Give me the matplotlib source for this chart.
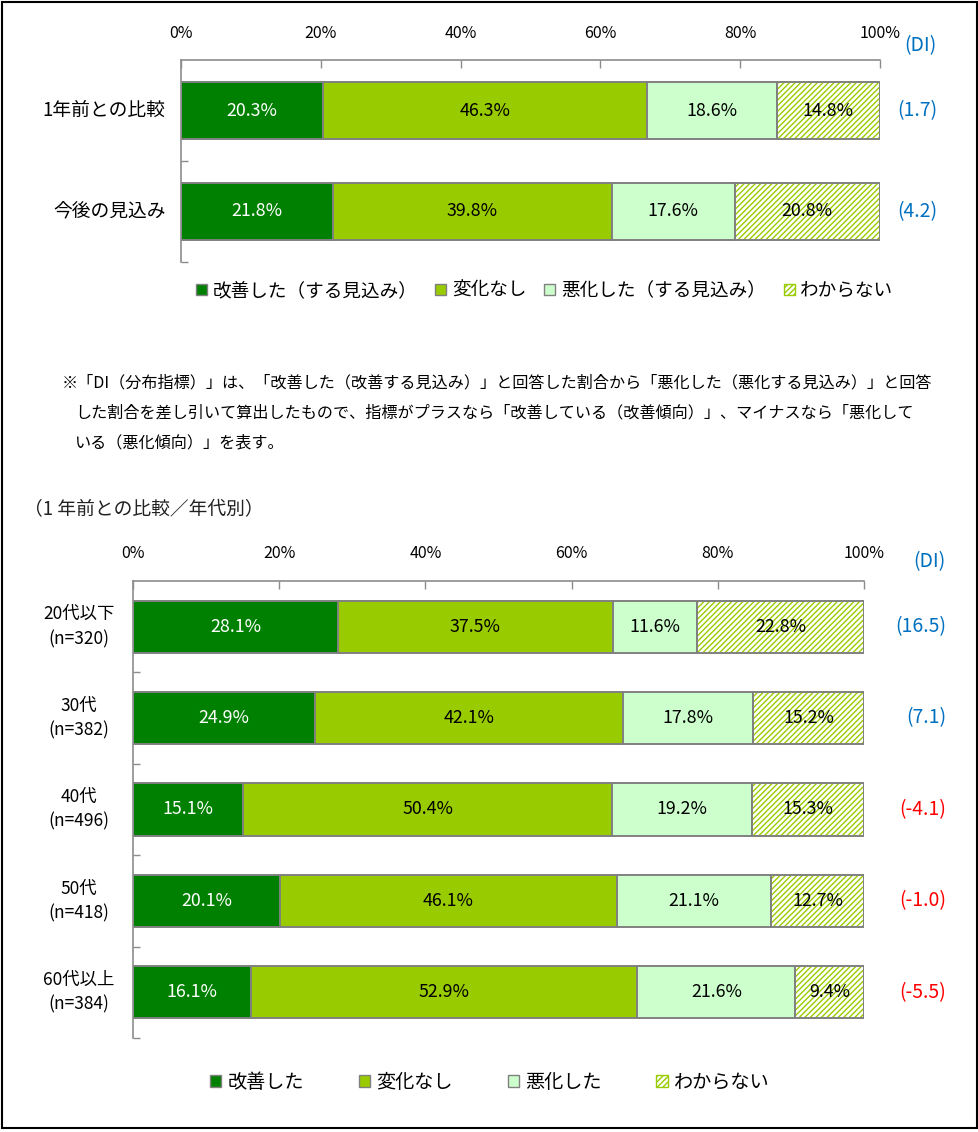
import matplotlib
matplotlib.use('Agg')
import matplotlib.pyplot as plt
from matplotlib.patches import Patch, Rectangle
from matplotlib.transforms import blended_transform_factory
import numpy as np

plt.rcParams['font.family'] = ['Noto Sans CJK JP', 'DejaVu Sans']
plt.rcParams['hatch.linewidth'] = 1.0

# ---------------- data ----------------
top_categories = ['1年前との比較', '今後の見込み']
top_improved = [20.3, 21.8]
top_nochange = [46.3, 39.8]
top_worse = [18.6, 17.6]
top_unknown = [14.8, 20.8]
top_di = [1.7, 4.2]
top_legend = ['改善した（する見込み）', '変化なし', '悪化した（する見込み）', 'わからない']

age_categories = ['20代以下\n(n=320)', '30代\n(n=382)', '40代\n(n=496)',
                  '50代\n(n=418)', '60代以上\n(n=384)']
age_improved = [28.1, 24.9, 15.1, 20.1, 16.1]
age_nochange = [37.5, 42.1, 50.4, 46.1, 52.9]
age_worse = [11.6, 17.8, 19.2, 21.1, 21.6]
age_unknown = [22.8, 15.2, 15.3, 12.7, 9.4]
age_di = [16.5, 7.1, -4.1, -1.0, -5.5]
age_legend = ['改善した', '変化なし', '悪化した', 'わからない']

xticks = [0, 20, 40, 60, 80, 100]

note_lines = [
    '※「DI（分布指標）」は、「改善した（改善する見込み）」と回答した割合から「悪化した（悪化する見込み）」と回答',
    'した割合を差し引いて算出したもので、指標がプラスなら「改善している（改善傾向）」、マイナスなら「悪化して',
    'いる（悪化傾向）」を表す。',
]
subtitle = '（1 年前との比較／年代別）'

# ---------------- style ----------------
C_IMP = '#008000'
C_NOC = '#99CC00'
C_WOR = '#CCFFCC'
C_HATCH = '#99CC00'
EDGE = '#808080'
SPINE = '#8C8C8C'
BLUE = '#0070C0'
RED = '#FF0000'

W, H = 979, 1132
fig = plt.figure(figsize=(W / 100, H / 100), dpi=100)


def fx(px):
    return px / W


def fy(py):
    return 1 - py / H


def draw_chart(ax, cats, improved, nochange, worse, unknown, bar_h, tick_pad):
    n = len(cats)
    y = np.arange(n)
    left = np.zeros(n)
    series = [improved, nochange, worse, unknown]
    colors = [C_IMP, C_NOC, C_WOR, 'white']
    tcolors = ['white', 'black', 'black', 'black']
    for i, (vals, col, tc) in enumerate(zip(series, colors, tcolors)):
        vals = np.array(vals, dtype=float)
        if i == 3:
            ax.barh(y, vals, left=left, height=bar_h, color='white',
                    edgecolor=C_HATCH, hatch='//////', linewidth=0)
            ax.barh(y, vals, left=left, height=bar_h, fill=False,
                    edgecolor=EDGE, linewidth=1.4)
        else:
            ax.barh(y, vals, left=left, height=bar_h, color=col,
                    edgecolor=EDGE, linewidth=1.4)
        for yy, l, v in zip(y, left, vals):
            ax.text(l + v / 2, yy, f'{v:.1f}%', ha='center', va='center',
                    color=tc, fontsize=12.8)
        left = left + vals
    ax.set_xlim(0, 100)
    ax.set_ylim(n - 0.5, -0.5)
    ax.xaxis.tick_top()
    ax.set_xticks(xticks)
    ax.set_xticklabels([f'{t}%' for t in xticks], fontsize=11.5)
    ax.tick_params(axis='x', direction='in', length=6, color=SPINE,
                   pad=tick_pad, width=1)
    ax.set_yticks(y)
    ax.set_yticklabels([])
    ax.tick_params(axis='y', which='major', length=0)
    ax.set_yticks(np.arange(n) + 0.5, minor=True)
    ax.tick_params(axis='y', which='minor', direction='in', length=5,
                   color=SPINE, width=1)
    for s in ['right', 'bottom']:
        ax.spines[s].set_visible(False)
    for s in ['top', 'left']:
        ax.spines[s].set_color(SPINE)
        ax.spines[s].set_linewidth(1.2)
    return y


# ---------------- top chart ----------------
ax1 = fig.add_axes([fx(181), fy(262), fx(880) - fx(181), fy(60) - fy(262)])
y1 = draw_chart(ax1, top_categories, top_improved, top_nochange, top_worse,
                top_unknown, 0.56, 13)
for yy, c in zip(y1, top_categories):
    ax1.annotate(c, xy=(0, yy), xycoords=('axes fraction', 'data'),
                 xytext=(-11, 0), textcoords='offset points',
                 ha='right', va='center', fontsize=13.5)
tr1 = blended_transform_factory(fig.transFigure, ax1.transData)
for yy, d in zip(y1, top_di):
    ax1.text(fx(937), yy, f'({d:.1f})', transform=tr1, ha='right',
             va='center', fontsize=14, color=BLUE if d >= 0 else RED)
fig.text(fx(937), fy(46), '(DI)', ha='right', va='center', fontsize=14,
         color=BLUE)

handles1 = [Patch(facecolor=C_IMP, edgecolor=EDGE),
            Patch(facecolor=C_NOC, edgecolor=EDGE),
            Patch(facecolor=C_WOR, edgecolor=EDGE),
            Patch(facecolor='white', edgecolor=C_HATCH, hatch='//////')]
fig.legend(handles1, top_legend, loc='center left',
           bbox_to_anchor=(fx(196), fy(291)), ncol=4, frameon=False,
           fontsize=13.4, handlelength=0.6, handleheight=0.6,
           handletextpad=0.3, columnspacing=0.95, borderpad=0,
           borderaxespad=0)

# ---------------- notes ----------------
fig.text(fx(62), fy(383), note_lines[0], fontsize=11.6, va='center')
fig.text(fx(75), fy(413), note_lines[1], fontsize=11.6, va='center')
fig.text(fx(75), fy(443), note_lines[2], fontsize=11.6, va='center')
fig.text(fx(24), fy(510), subtitle, fontsize=13.5, va='center', color='#222222')

# ---------------- bottom chart ----------------
ax2 = fig.add_axes([fx(133), fy(1038), fx(864) - fx(133), fy(581) - fy(1038)])
y2 = draw_chart(ax2, age_categories, age_improved, age_nochange, age_worse,
                age_unknown, 0.57, 14)
for yy, c in zip(y2, age_categories):
    ax2.annotate(c, xy=(0, yy), xycoords=('axes fraction', 'data'),
                 xytext=(-39, 0), textcoords='offset points',
                 ha='center', va='center', fontsize=12.5, linespacing=1.45)
tr2 = blended_transform_factory(fig.transFigure, ax2.transData)
for yy, d in zip(y2, age_di):
    ax2.text(fx(946), yy, f'({d:.1f})', transform=tr2, ha='right',
             va='center', fontsize=14, color=BLUE if d >= 0 else RED)
fig.text(fx(946), fy(562), '(DI)', ha='right', va='center', fontsize=14,
         color=BLUE)

handles2 = [Patch(facecolor=C_IMP, edgecolor=EDGE),
            Patch(facecolor=C_NOC, edgecolor=EDGE),
            Patch(facecolor=C_WOR, edgecolor=EDGE),
            Patch(facecolor='white', edgecolor=C_HATCH, hatch='//////')]
fig.legend(handles2, age_legend, loc='center left',
           bbox_to_anchor=(fx(210), fy(1082)), ncol=4, frameon=False,
           fontsize=13.8, handlelength=0.6, handleheight=0.6,
           handletextpad=0.3, columnspacing=2.87, borderpad=0,
           borderaxespad=0)

# ---------------- outer frame ----------------
fig.add_artist(Rectangle((fx(2), fy(1128)), fx(977) - fx(2), fy(2) - fy(1128),
                         transform=fig.transFigure, fill=False,
                         edgecolor='black', linewidth=1.5))

fig.savefig('out.png', dpi=100)
